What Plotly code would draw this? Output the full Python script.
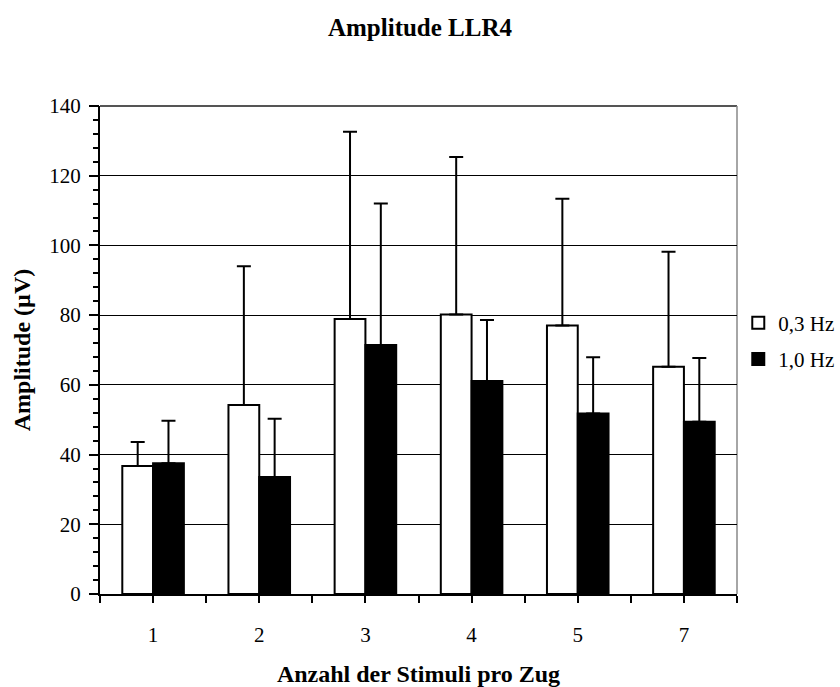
import plotly.graph_objects as go

categories = ["1", "2", "3", "4", "5", "7"]
series_names = ["0,3 Hz", "1,0 Hz"]
mean_03 = [36.7, 54.2, 78.9, 80.2, 77.0, 65.2]
err_03 = [6.9, 39.8, 53.7, 45.2, 36.4, 33.0]
mean_10 = [37.5, 33.6, 71.4, 61.1, 51.8, 49.4]
err_10 = [12.2, 16.7, 40.6, 17.5, 16.1, 18.3]
y_major = [0, 20, 40, 60, 80, 100, 120, 140]
y_minor = list(range(0, 141, 4))

FONT = "Liberation Serif, Times New Roman, serif"
xpos = list(range(len(categories)))

fig = go.Figure()
fig.add_trace(go.Bar(
    x=xpos, y=mean_03, name=series_names[0], legendgroup="a",
    marker=dict(color="white", line=dict(color="black", width=2)),
    error_y=dict(type="data", symmetric=False, array=err_03,
                 arrayminus=[0] * len(err_03), color="black", thickness=2, width=7),
))
fig.add_trace(go.Bar(
    x=xpos, y=mean_10, name=series_names[1], legendgroup="b",
    marker=dict(color="black", line=dict(color="black", width=2)),
    error_y=dict(type="data", symmetric=False, array=err_10,
                 arrayminus=[0] * len(err_10), color="black", thickness=2, width=7),
))
# empty helper trace so the overlay axis carrying the small ticks is drawn
fig.add_trace(go.Scatter(x=[None], y=[None], yaxis="y2", showlegend=False,
                         hoverinfo="skip", mode="markers"))

fig.update_layout(
    width=840, height=687,
    margin=dict(l=100, r=103, t=106, b=93, autoexpand=False),
    paper_bgcolor="white", plot_bgcolor="white",
    font=dict(family=FONT, size=21, color="black"),
    barmode="group", bargap=0.42, bargroupgap=0,
    title=dict(text="Amplitude LLR4", x=0.5, xanchor="center",
               y=1 - 27 / 687, yanchor="middle",
               font=dict(family=FONT, size=25, weight="bold", color="black")),
    legend=dict(x=1.002, xanchor="left", y=0.597, yanchor="top",
                font=dict(family=FONT, size=21, color="black"),
                traceorder="grouped", tracegroupgap=6,
                bgcolor="rgba(0,0,0,0)"),
    xaxis=dict(
        range=[-0.5, len(categories) - 0.5], automargin=False,
        tickmode="array", tickvals=xpos, ticktext=categories,
        ticks="outside", ticklen=7, tickwidth=2, tickcolor="black",
        ticklabelstandoff=14,
        minor=dict(tickmode="linear", tick0=0.5, dtick=1, ticks="outside",
                   ticklen=7, tickwidth=2, tickcolor="black", showgrid=False),
        showline=True, linecolor="black", linewidth=2,
        showgrid=False, zeroline=False,
        title=dict(text="Anzahl der Stimuli pro Zug", standoff=24,
                   font=dict(family=FONT, size=24, weight="bold")),
        tickfont=dict(size=21),
    ),
    yaxis=dict(
        range=[0, 140], tickmode="array", tickvals=y_major,
        automargin=False,
        ticks="outside", ticklen=9, tickwidth=2, tickcolor="black",
        ticklabelstandoff=4,
        showgrid=True, gridcolor="black", gridwidth=1,
        showline=True, linecolor="black", linewidth=2,
        zeroline=False,
        title=dict(text="Amplitude (µV)", standoff=12,
                   font=dict(family=FONT, size=24, weight="bold")),
        tickfont=dict(size=21),
    ),
    yaxis2=dict(
        range=[0, 140], overlaying="y", side="left", anchor="x",
        automargin=False, tickmode="array", tickvals=y_minor,
        ticks="outside", ticklen=6, tickwidth=2, tickcolor="black",
        showticklabels=False, showgrid=False, zeroline=False, showline=False,
    ),
    shapes=[
        dict(type="line", xref="paper", yref="paper", x0=0, x1=1, y0=1, y1=1,
             line=dict(color="#555555", width=2), layer="below"),
        dict(type="line", xref="paper", yref="paper", x0=1, x1=1, y0=0, y1=1,
             line=dict(color="#888888", width=1.5), layer="below"),
    ],
    showlegend=True,
)

fig.write_html("out.html")
